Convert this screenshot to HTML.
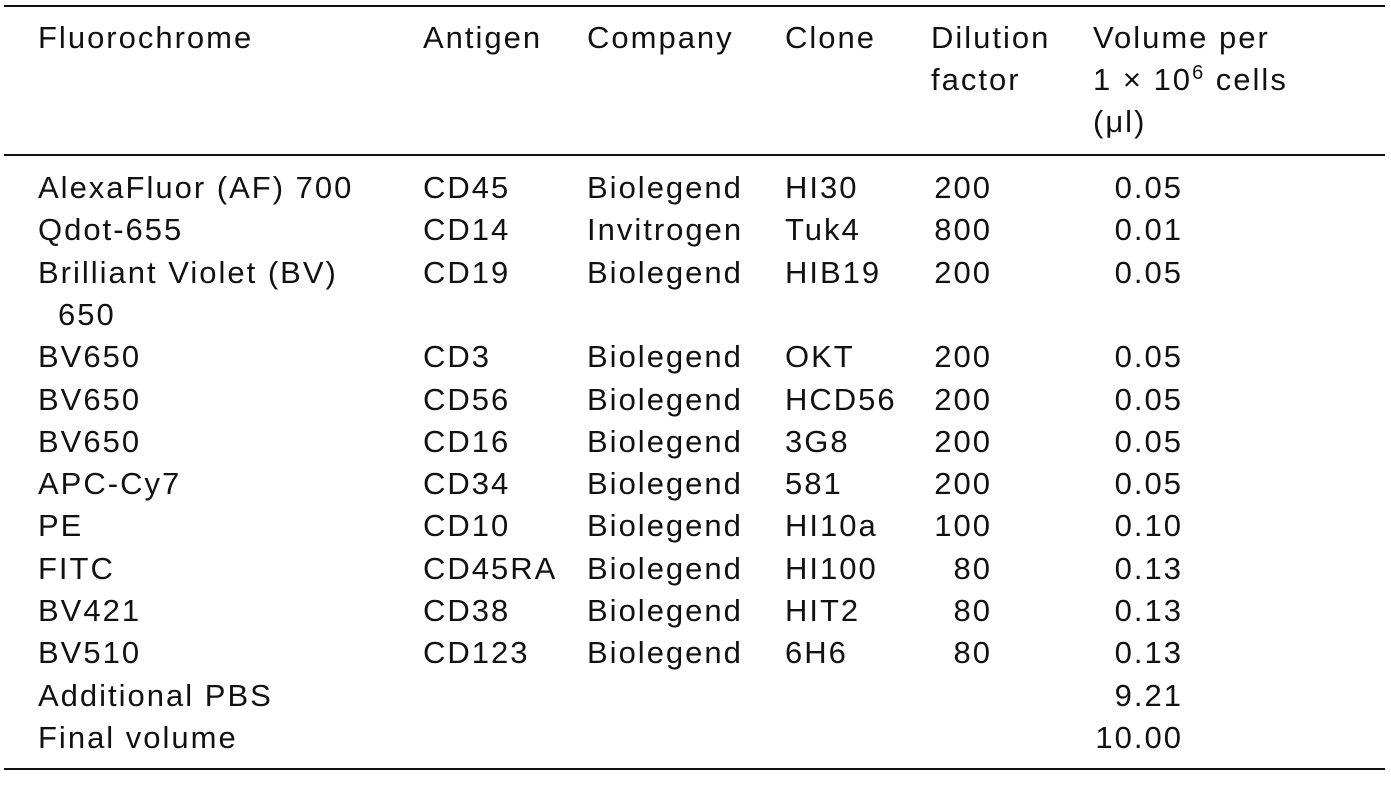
<!DOCTYPE html>
<html><head><meta charset="utf-8">
<style>
html,body{margin:0;padding:0;background:#fff;}
body{width:1391px;height:787px;position:relative;overflow:hidden;font-family:"Liberation Sans",sans-serif;color:#111;font-size:31px;letter-spacing:2px;}
.t{position:absolute;white-space:nowrap;line-height:42px;}
.r{text-align:right;}
.rule{position:absolute;left:4px;width:1381px;background:#111;}
</style></head>
<body>
<div class="rule" style="top:5px;height:2px"></div>
<div class="rule" style="top:154px;height:2px"></div>
<div class="rule" style="top:768px;height:2px"></div>
<div id="tbl"></div>
<script>
const headers=[["Fluorochrome"],["Antigen"],["Company"],["Clone"],["Dilution","factor"],["Volume per","1 × 10<sup style='font-size:20px;vertical-align:11px;line-height:0'>6</sup> cells","(μl)"]];
const colX=[38,423,587,785,931,1093];
const rows=[
["AlexaFluor (AF) 700","CD45","Biolegend","HI30","200","0.05"],
["Qdot-655","CD14","Invitrogen","Tuk4","800","0.01"],
["Brilliant Violet (BV)","CD19","Biolegend","HIB19","200","0.05"],
["    650","","","","",""],
["BV650","CD3","Biolegend","OKT","200","0.05"],
["BV650","CD56","Biolegend","HCD56","200","0.05"],
["BV650","CD16","Biolegend","3G8","200","0.05"],
["APC-Cy7","CD34","Biolegend","581","200","0.05"],
["PE","CD10","Biolegend","HI10a","100","0.10"],
["FITC","CD45RA","Biolegend","HI100","80","0.13"],
["BV421","CD38","Biolegend","HIT2","80","0.13"],
["BV510","CD123","Biolegend","6H6","80","0.13"],
["Additional PBS","","","","","9.21"],
["Final volume","","","","","10.00"]];
const root=document.getElementById('tbl');
headers.forEach((h,ci)=>{h.forEach((line,li)=>{
 const d=document.createElement('div');d.className='t';
 
 
 d.style.left=colX[ci]+'px';d.style.top=(48+li*42-31)+'px';d.innerHTML=line;root.appendChild(d);});});
rows.forEach((row,ri)=>{
 const base=198+ri*42.3;
 row.forEach((v,ci)=>{ if(!v)return;
  const d=document.createElement('div');d.className='t';
  
  
  d.style.top=(base-31)+'px';
  if(ci===4){d.classList.add('r');d.style.left='860px';d.style.width='132px';}
  else if(ci===5){d.classList.add('r');d.style.left='1040px';d.style.width='143px';}
  else {d.style.left=(colX[ci]+(ri===3&&ci===0?20:0))+'px';}
  d.textContent=v.trim();root.appendChild(d);});
});
</script>
</body></html>
